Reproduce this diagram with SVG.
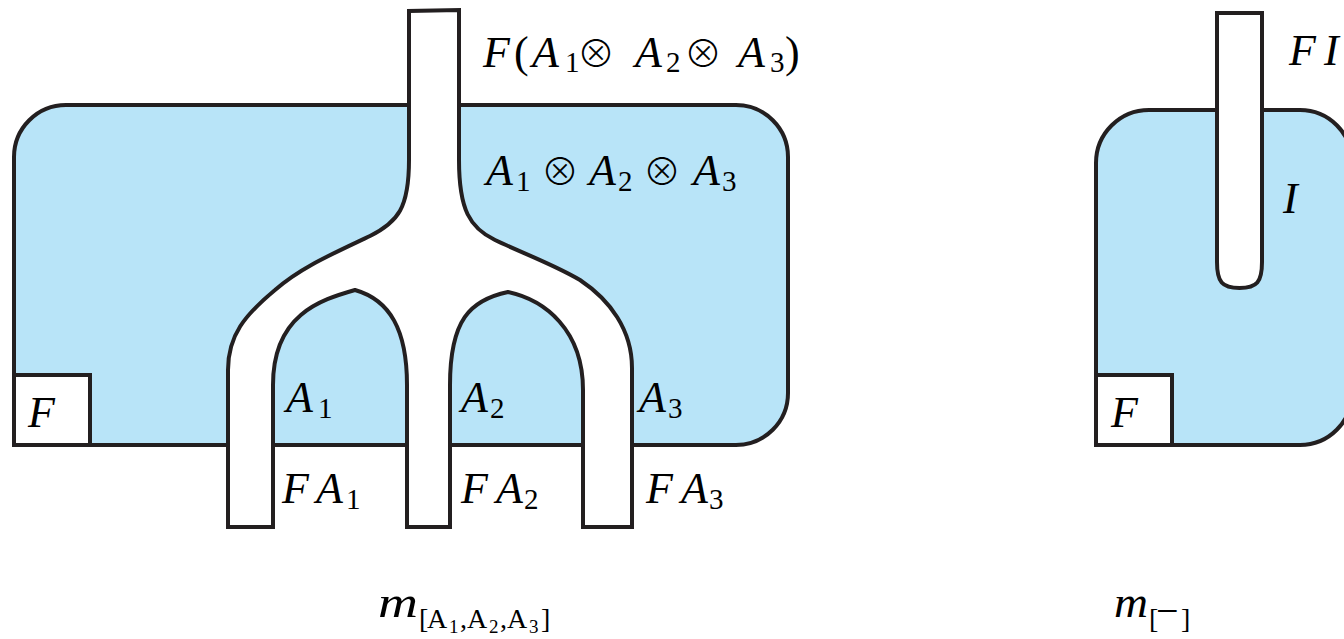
<svg xmlns="http://www.w3.org/2000/svg" width="1344" height="639" viewBox="0 0 1344 639">
<style>
.ln{stroke:#231f20;stroke-width:4;stroke-linejoin:miter}
.blue{fill:#b8e4f8}
.white{fill:#ffffff}
.mi{font-family:"Liberation Serif","DejaVu Serif",serif;font-style:italic;font-size:44px;fill:#000}
.rm{font-family:"Liberation Serif","DejaVu Serif",serif;font-style:normal;font-size:29px}
.op{font-family:"Noto Sans CJK JP","DejaVu Sans",sans-serif;font-style:normal;font-weight:300;font-size:38px}
.par{font-family:"Liberation Serif","DejaVu Serif",serif;font-style:normal;font-size:44px}
.sb{font-family:"Liberation Serif","DejaVu Serif",serif;font-style:normal;font-size:28px;fill:#000}
.ssb{font-size:19px}
.mn{font-size:40px}
</style>
<rect width="1344" height="639" fill="#ffffff"/>

<g id="region-left">
<path class="ln blue" d="M14,445 L14,157 A52,52 0 0 1 66,105 L736,105 A52,52 0 0 1 788,157 L788,393 A52,52 0 0 1 736,445 Z"/>
</g>
<g id="region-right">
<path class="ln blue" d="M1096,445 L1096,163 A53,53 0 0 1 1149,110 L1300,110 A52,52 0 0 1 1352,162 L1352,393 A52,52 0 0 1 1300,445 Z"/>
</g>

<g id="connectors">
<path id="fork" class="ln white" d="M409,11 L409,160 C409,208 398,222 370,236 C330,255 300,268 275,290 C245,315 228,335 228,370 L228,527 L273,527 L273,385 C273,315 320,300 355,290 C390,300 407,330 407,385 L407,527 L450,527 L450,385 C450,320 470,300 508,292 C545,300 583,330 583,390 L583,527 L632,527 L632,368 C632,330 610,300 580,280 C555,265 520,252 495,240 C470,228 459,210 459,160 L459,10 Z"/>
<path id="tube" class="ln white" d="M1217,13 L1217,262 C1217,282 1222,288 1239.5,288 C1257,288 1262,282 1262,262 L1262,13 Z"/>
</g>

<g id="fbox-left">
<rect class="ln white" x="14" y="375" width="76" height="70"/>
<text class="mi" x="28" y="427">F</text>
</g>
<g id="fbox-right">
<rect class="ln white" x="1096" y="375" width="76" height="70"/>
<text class="mi" x="1111" y="427">F</text>
</g>

<g id="labels">
<text class="mi"><tspan x="483" y="67">F</tspan><tspan class="par" x="514" y="67">(</tspan><tspan x="532" y="67">A</tspan><tspan class="rm" x="565" y="72">1</tspan><tspan class="op" x="577" y="67">⊗</tspan><tspan x="635" y="67">A</tspan><tspan class="rm" x="666" y="72">2</tspan><tspan class="op" x="684" y="67">⊗</tspan><tspan x="738" y="67">A</tspan><tspan class="rm" x="770" y="72">3</tspan><tspan class="par" x="785" y="67">)</tspan></text>

<text class="mi"><tspan x="486" y="185">A</tspan><tspan class="rm" x="516" y="191">1</tspan><tspan class="op" x="541" y="185">⊗</tspan><tspan x="589" y="185">A</tspan><tspan class="rm" x="618" y="191">2</tspan><tspan class="op" x="643" y="185">⊗</tspan><tspan x="693" y="185">A</tspan><tspan class="rm" x="722" y="191">3</tspan></text>

<text class="mi"><tspan x="286" y="412">A</tspan><tspan class="rm" x="318" y="418">1</tspan></text>
<text class="mi"><tspan x="461" y="412">A</tspan><tspan class="rm" x="490" y="418">2</tspan></text>
<text class="mi"><tspan x="639" y="412">A</tspan><tspan class="rm" x="668" y="418">3</tspan></text>

<text class="mi"><tspan x="282" y="503">F</tspan><tspan x="316" y="503">A</tspan><tspan class="rm" x="346" y="509">1</tspan></text>
<text class="mi"><tspan x="461" y="503">F</tspan><tspan x="496" y="503">A</tspan><tspan class="rm" x="524" y="509">2</tspan></text>
<text class="mi"><tspan x="646" y="503">F</tspan><tspan x="681" y="503">A</tspan><tspan class="rm" x="709" y="509">3</tspan></text>

<text class="mi"><tspan x="1289" y="65">F</tspan><tspan x="1324" y="65">I</tspan></text>
<text class="mi" x="1283" y="213">I</text>

<text class="mi" x="378" y="617" textLength="40" lengthAdjust="spacingAndGlyphs">m</text>
<text class="sb"><tspan x="419" y="628">[</tspan><tspan x="427" y="628">A</tspan><tspan class="ssb" x="449" y="633">1</tspan><tspan x="460" y="628">,</tspan><tspan x="467" y="628">A</tspan><tspan class="ssb" x="489" y="633">2</tspan><tspan x="500" y="628">,</tspan><tspan x="507" y="628">A</tspan><tspan class="ssb" x="529" y="633">3</tspan><tspan x="541" y="628">]</tspan></text>

<text class="mi" x="1114" y="617" textLength="34" lengthAdjust="spacingAndGlyphs">m</text>
<text class="sb"><tspan x="1149" y="628">[</tspan><tspan class="mn" x="1156" y="624">−</tspan><tspan x="1181" y="628">]</tspan></text>
</g>
</svg>
